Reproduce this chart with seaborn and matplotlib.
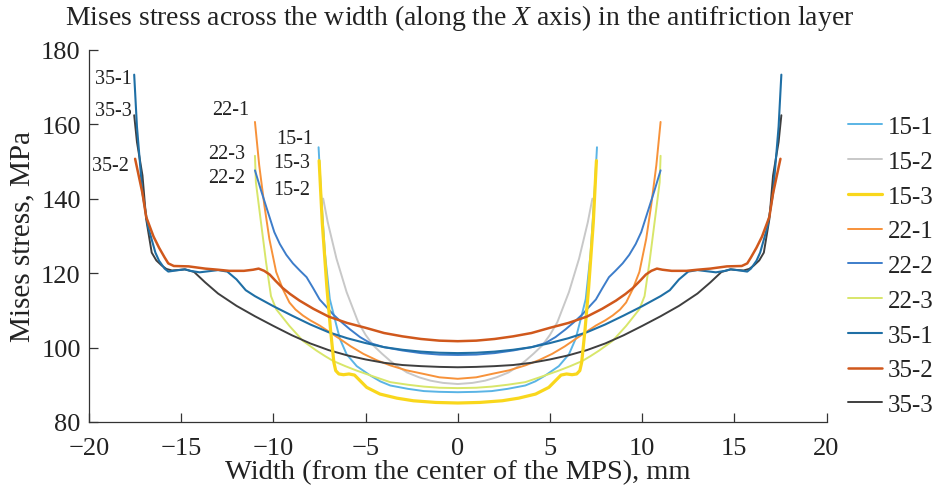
import numpy as np
import pandas as pd
import matplotlib
matplotlib.use("Agg")
import matplotlib.pyplot as plt
import seaborn as sns

# half profiles (x >= 0, mm / MPa); the curves are symmetric about x = 0
x_15_1 = [0, 1.0, 1.84, 2.7, 3.66, 4.2, 4.75, 5.48, 6.03, 6.39, 6.6, 6.94, 7.2, 7.4, 7.55]
v_15_1 = [88.0, 88.1, 88.3, 88.9, 89.8, 90.9, 92.5, 95.0, 98.2, 102.3, 106.3, 113.0, 125.0, 139.9, 153.8]

x_15_2 = [0, 0.8, 1.48, 2.1, 2.75, 3.2, 3.66, 4.1, 4.57, 5.0, 5.4, 6.03, 6.58, 7.05, 7.3]
v_15_2 = [90.2, 90.5, 91.1, 92.0, 93.3, 94.7, 96.4, 98.3, 100.5, 103.4, 106.8, 114.9, 123.9, 133.6, 140.0]

x_15_3 = [0, 1.2, 2.41, 3.3, 4.22, 4.94, 5.4, 5.6, 5.9, 6.2, 6.45, 6.62, 6.72, 6.9, 7.1, 7.35, 7.52]
v_15_3 = [85.1, 85.25, 85.7, 86.4, 87.5, 89.3, 91.6, 92.6, 92.9, 92.7, 92.9, 93.8, 96.0, 104.7, 116.2, 133.5, 150.2]

x_22_1 = [0, 1.0, 1.84, 2.8, 3.66, 4.4, 5.12, 5.8, 6.39, 7.0, 7.49, 8.0, 8.4, 8.8, 9.13, 9.49, 9.85,
          10.22, 10.49, 10.77, 11.0]
v_22_1 = [91.6, 92.0, 92.9, 93.9, 95.2, 96.6, 98.3, 100.3, 102.3, 104.3, 105.9, 107.3, 108.6, 110.2,
          112.1, 115.7, 120.3, 129.2, 138.2, 149.0, 160.6]

x_22_2 = [0, 1.0, 2.0, 3.0, 4.0, 4.75, 5.3, 5.85, 6.3, 6.76, 7.1, 7.49, 7.85, 8.2, 8.55, 8.94, 9.3,
          9.65, 9.95, 10.31, 10.67, 11.0]
v_22_2 = [98.0, 98.1, 98.5, 99.2, 100.1, 101.2, 102.8, 104.9, 106.8, 108.9, 110.8, 112.9, 116.0, 118.9,
          120.6, 122.6, 124.9, 127.8, 131.0, 136.6, 142.2, 147.6]

x_22_3 = [0, 1.0, 1.84, 2.7, 3.66, 4.5, 5.48, 6.1, 6.76, 7.2, 7.67, 8.4, 9.13, 9.85, 10.13, 10.4,
          10.67, 10.95, 11.0]
v_22_3 = [89.1, 89.2, 89.5, 90.0, 90.7, 92.1, 93.8, 95.0, 96.4, 97.7, 99.2, 101.8, 105.8, 110.3, 113.8,
          123.0, 133.5, 144.4, 151.5]

x_35_1 = [0, 1.0, 2.0, 3.0, 4.0, 5.0, 6.0, 7.0, 8.0, 9.0, 10.0, 11.0, 11.5, 12.0, 12.5, 13.0, 13.5,
          14.0, 14.5, 14.8, 15.3, 15.7, 15.9, 16.2, 16.4, 16.8, 17.1, 17.4, 17.55]
v_35_1 = [98.5, 98.6, 98.9, 99.4, 100.1, 101.2, 102.5, 104.1, 106.2, 108.6, 111.1, 113.8, 115.4, 118.3,
          120.4, 120.8, 120.5, 120.2, 120.6, 121.0, 120.7, 120.4, 121.2, 123.3, 125.5, 132.5, 141.4,
          159.3, 173.3]

x_35_2 = [0, 1.0, 2.0, 3.0, 4.0, 5.0, 6.0, 7.0, 7.83, 8.58, 9.1, 9.5, 9.9, 10.2, 10.5, 10.8, 11.1,
          11.6, 12.4, 13.0, 13.7, 14.6, 15.4, 15.7, 15.9, 16.2, 16.5, 16.9, 17.1, 17.5]
v_35_2 = [101.7, 101.85, 102.3, 103.0, 103.9, 105.3, 106.6, 108.3, 110.4, 112.6, 114.4, 116.0, 118.0,
          119.6, 120.6, 121.2, 120.9, 120.6, 120.6, 120.9, 121.2, 121.8, 121.9, 122.6, 124.2, 126.8,
          129.8, 135.1, 141.4, 150.7]

x_35_3 = [0, 1.0, 2.0, 3.0, 4.0, 5.0, 6.0, 7.0, 8.0, 9.0, 10.0, 11.0, 12.0, 13.0, 13.7, 14.3, 14.8,
          15.2, 15.5, 15.8, 16.05, 16.35, 16.6, 16.9, 17.1, 17.4, 17.55]
v_35_3 = [94.7, 94.8, 95.0, 95.3, 95.9, 96.8, 97.9, 99.3, 101.1, 103.3, 105.8, 108.4, 111.2, 114.5,
          117.5, 120.3, 121.0, 120.8, 120.7, 121.1, 122.0, 123.4, 125.5, 134.5, 146.2, 155.2, 162.4]

names = ["15-1", "15-2", "15-3", "22-1", "22-2", "22-3", "35-1", "35-2", "35-3"]
colors = ["#5AB4E5", "#C8C8C8", "#F9D71C", "#F7923A", "#3D7DCA", "#D8E66A", "#1F6FA5", "#D0581C", "#3F3F3F"]
widths = [1.4, 1.4, 2.3, 1.4, 1.4, 1.4, 1.5, 1.8, 1.4]
zorders = [3, 2, 6, 4, 5, 3, 5, 6, 4]

halves = {
    "15-1": (x_15_1, v_15_1), "15-2": (x_15_2, v_15_2), "15-3": (x_15_3, v_15_3),
    "22-1": (x_22_1, v_22_1), "22-2": (x_22_2, v_22_2), "22-3": (x_22_3, v_22_3),
    "35-1": (x_35_1, v_35_1), "35-2": (x_35_2, v_35_2), "35-3": (x_35_3, v_35_3),
}

# labels next to the left-hand peaks
label_text = ["35-1", "35-3", "35-2", "22-1", "22-3", "22-2", "15-1", "15-3", "15-2"]
label_x = [-18.69, -18.69, -18.86, -12.34, -12.51, -12.51, -8.82, -8.99, -8.99]
label_y = [172.2, 163.8, 148.8, 163.9, 152.0, 145.6, 156.1, 149.6, 142.4]

rows = []
for n in names:
    hx, hv = halves[n]
    hx = np.array(hx)
    hv = np.array(hv)
    xs = np.concatenate([-hx[::-1], hx[1:]])
    vs = np.concatenate([hv[::-1], hv[1:]])
    for a, b in zip(xs, vs):
        rows.append((n, a, b))
df = pd.DataFrame(rows, columns=["series", "x", "stress"])

sns.set_style("ticks")
plt.rcParams["font.family"] = ["Liberation Serif", "DejaVu Serif"]
plt.rcParams["mathtext.fontset"] = "custom"
plt.rcParams["mathtext.it"] = "Liberation Serif:italic"
plt.rcParams["mathtext.rm"] = "Liberation Serif"

fig = plt.figure(figsize=(9.37, 4.89), dpi=100)
ax = fig.add_axes([0.0950, 0.1350, 0.7871, 0.7613])

for n, c, w, z in zip(names, colors, widths, zorders):
    sub = df[df["series"] == n]
    sns.lineplot(data=sub, x="x", y="stress", ax=ax, color=c, lw=w, label=n,
                 sort=False, estimator=None, zorder=z)

for t, lx, ly in zip(label_text, label_x, label_y):
    ax.text(lx, ly, t, fontsize=14.5, ha="center", va="center", color="#222222", zorder=10)

ax.set_xlim(-20, 20)
ax.set_ylim(80, 180)
ax.set_xticks(range(-20, 21, 5))
ax.set_xticklabels(["\u221220", "\u221215", "\u221210", "\u22125", "0", "5", "10", "15", "20"])
ax.set_yticks(range(80, 181, 20))
ax.tick_params(direction="in", length=6.5, width=0.9, labelsize=19, colors="#333333",
               labelcolor="#222222")
ax.tick_params(axis="x", pad=11)
ax.tick_params(axis="y", pad=6)
ax.set_xlabel("Width (from the center of the MPS), mm", fontsize=20.5, labelpad=0, color="#222222")
ax.set_ylabel("Mises stress, MPa", fontsize=21, labelpad=4, color="#222222")
sns.despine(ax=ax)
for s in ["left", "bottom"]:
    ax.spines[s].set_linewidth(0.9)
    ax.spines[s].set_color("#333333")

fig.text(0.491, 0.963, r"Mises stress across the width (along the $X$ axis) in the antifriction layer",
         fontsize=20, ha="center", va="center", color="#222222")

leg = ax.legend(loc="upper left", bbox_to_anchor=(1.015, 0.85), frameon=False, fontsize=18,
                handlelength=1.36, handletextpad=0.26, labelspacing=0.49, borderaxespad=0)
for t in leg.get_texts():
    t.set_color("#222222")

fig.savefig("out.png", dpi=100)
